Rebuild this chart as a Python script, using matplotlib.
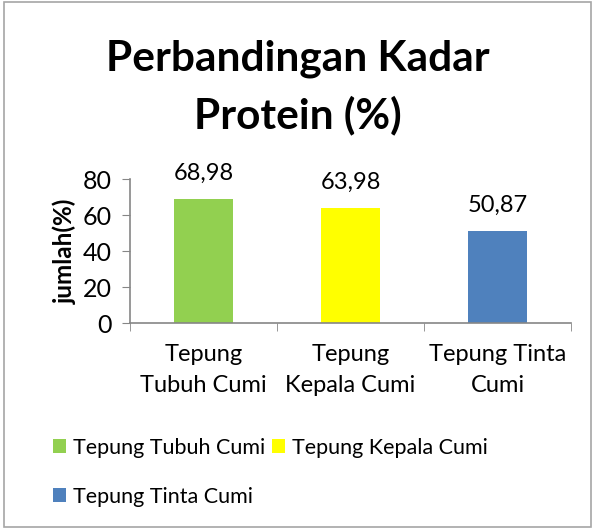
import matplotlib.pyplot as plt
from matplotlib.patches import Rectangle

categories = ["Tepung\nTubuh Cumi", "Tepung\nKepala Cumi", "Tepung Tinta\nCumi"]
series_names = ["Tepung Tubuh Cumi", "Tepung Kepala Cumi", "Tepung Tinta Cumi"]
values = [68.98, 63.98, 50.87]
value_labels = ["68,98", "63,98", "50,87"]
colors = ["#92d050", "#ffff00", "#4f81bd"]

plt.rcParams['font.family'] = ['Lato', 'DejaVu Sans']

fig = plt.figure(figsize=(5.95, 5.29), dpi=100)
ax = fig.add_axes([0.2185, 0.3894, 0.7412, 0.2722])

x = range(len(values))
bars = []
for i, v in enumerate(values):
    b = ax.bar(i, v, width=0.4, color=colors[i], label=series_names[i])
    bars.append(b)
    ax.text(i, v + 8.5, value_labels[i], ha='center', va='bottom', fontsize=17)

ax.set_xlim(-0.5, 2.5)
ax.set_ylim(0, 80)
ax.set_yticks([0, 20, 40, 60, 80])
ax.tick_params(axis='y', labelsize=18, length=6, color='#868686', pad=7)
ax.set_xticks(list(x))
ax.set_xticklabels(categories, fontsize=17, linespacing=1.6)
ax.tick_params(axis='x', length=0, pad=15)
ax.set_xticks([-0.5, 0.5, 1.5, 2.5], minor=True)
ax.tick_params(axis='x', which='minor', length=6, color='#868686')
ax.set_ylabel("jumlah(%)", fontsize=17.5, fontweight='bold', labelpad=4)

for s in ['top', 'right']:
    ax.spines[s].set_visible(False)
for s in ['left', 'bottom']:
    ax.spines[s].set_color('#868686')
    ax.spines[s].set_linewidth(1.2)

fig.text(0.5, 0.835, "Perbandingan Kadar\nProtein (%)", ha='center', va='center',
         fontsize=30.5, fontweight='bold', linespacing=1.52)

handles = [bars[0], bars[2], bars[1]]
labels = [series_names[0], series_names[2], series_names[1]]
fig.legend(handles, labels, ncol=2, loc='upper left', bbox_to_anchor=(0.074, 0.189),
           frameon=False, fontsize=15.5, handlelength=0.6, handleheight=0.6,
           handletextpad=0.35, columnspacing=0.3, labelspacing=1.35, borderaxespad=0)

fig.patches.append(Rectangle((0.006, 0.004), 0.988, 0.992, transform=fig.transFigure,
                             fill=False, edgecolor='#a6a6a6', linewidth=1.2))

fig.savefig("out.png", dpi=100)
